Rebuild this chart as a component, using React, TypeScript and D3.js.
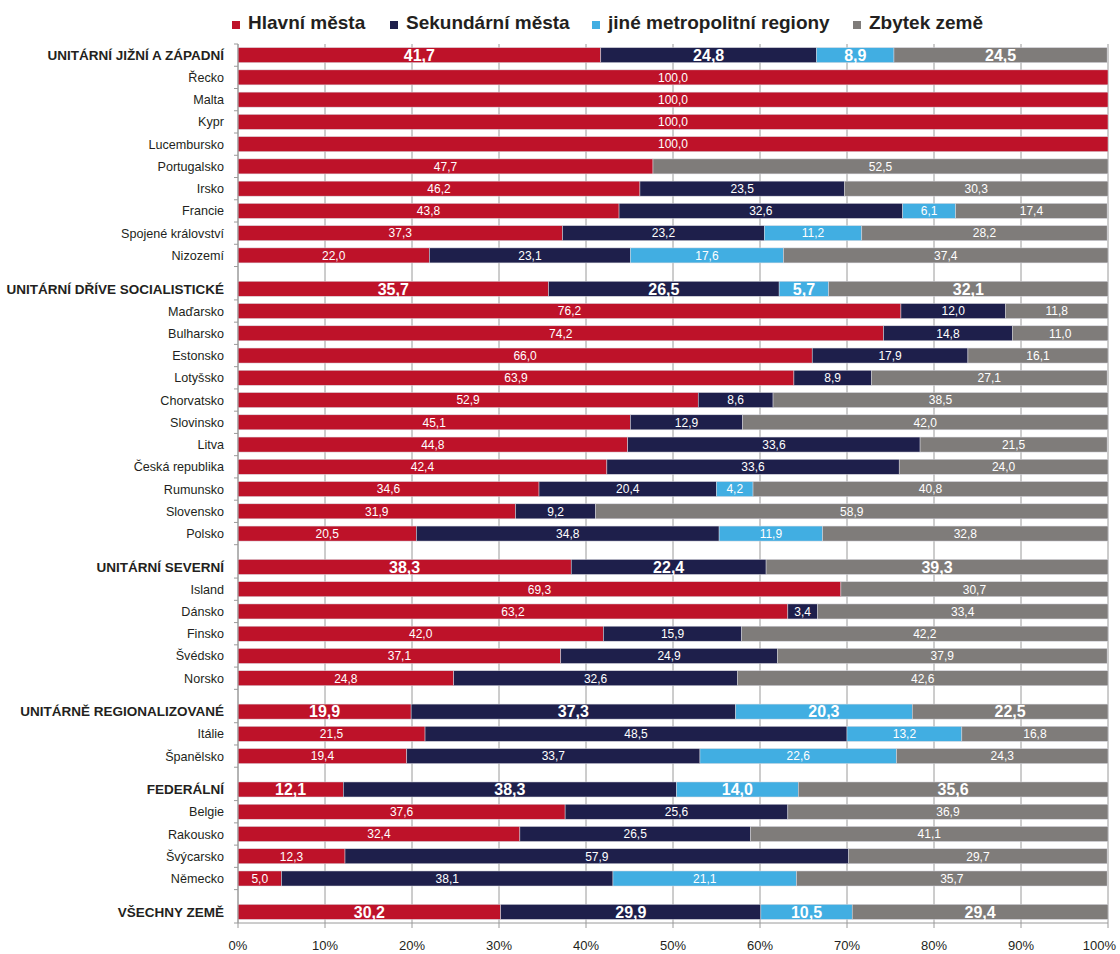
import React from "react";
import * as d3 from "d3";

const categories = [
  "UNITÁRNÍ JIŽNÍ A ZÁPADNÍ", "Řecko", "Malta", "Kypr", "Lucembursko", "Portugalsko", "Irsko", "Francie", "Spojené království", "Nizozemí",
  "UNITÁRNÍ DŘÍVE SOCIALISTICKÉ", "Maďarsko", "Bulharsko", "Estonsko", "Lotyšsko", "Chorvatsko", "Slovinsko", "Litva", "Česká republika", "Rumunsko", "Slovensko", "Polsko",
  "UNITÁRNÍ SEVERNÍ", "Island", "Dánsko", "Finsko", "Švédsko", "Norsko",
  "UNITÁRNĚ REGIONALIZOVANÉ", "Itálie", "Španělsko",
  "FEDERÁLNÍ", "Belgie", "Rakousko", "Švýcarsko", "Německo",
  "VŠECHNY ZEMĚ",
];

const headers = [
  "UNITÁRNÍ JIŽNÍ A ZÁPADNÍ",
  "UNITÁRNÍ DŘÍVE SOCIALISTICKÉ",
  "UNITÁRNÍ SEVERNÍ",
  "UNITÁRNĚ REGIONALIZOVANÉ",
  "FEDERÁLNÍ",
  "VŠECHNY ZEMĚ",
];

const hlavniMesta = [
  41.7, 100, 100, 100, 100, 47.7, 46.2, 43.8, 37.3, 22.0,
  35.7, 76.2, 74.2, 66.0, 63.9, 52.9, 45.1, 44.8, 42.4, 34.6, 31.9, 20.5,
  38.3, 69.3, 63.2, 42.0, 37.1, 24.8,
  19.9, 21.5, 19.4,
  12.1, 37.6, 32.4, 12.3, 5.0,
  30.2,
];
const sekundarniMesta = [
  24.8, 0, 0, 0, 0, 0, 23.5, 32.6, 23.2, 23.1,
  26.5, 12.0, 14.8, 17.9, 8.9, 8.6, 12.9, 33.6, 33.6, 20.4, 9.2, 34.8,
  22.4, 0, 3.4, 15.9, 24.9, 32.6,
  37.3, 48.5, 33.7,
  38.3, 25.6, 26.5, 57.9, 38.1,
  29.9,
];
const jineMetropolitni = [
  8.9, 0, 0, 0, 0, 0, 0, 6.1, 11.2, 17.6,
  5.7, 0, 0, 0, 0, 0, 0, 0, 0, 4.2, 0, 11.9,
  0, 0, 0, 0, 0, 0,
  20.3, 13.2, 22.6,
  14.0, 0, 0, 0, 21.1,
  10.5,
];
const zbytekZeme = [
  24.5, 0, 0, 0, 0, 52.5, 30.3, 17.4, 28.2, 37.4,
  32.1, 11.8, 11.0, 16.1, 27.1, 38.5, 42.0, 21.5, 24.0, 40.8, 58.9, 32.8,
  39.3, 30.7, 33.4, 42.2, 37.9, 42.6,
  22.5, 16.8, 24.3,
  35.6, 36.9, 41.1, 29.7, 35.7,
  29.4,
];

const seriesNames = ["Hlavní města", "Sekundární města", "jiné metropolitní regiony", "Zbytek země"];
const seriesColors = ["#BE1229", "#1E1F4B", "#41AEE2", "#7F7C7A"];
const xTicks = [0, 10, 20, 30, 40, 50, 60, 70, 80, 90, 100];

const FONT = "'Liberation Sans', Arial, Helvetica, sans-serif";

export default function App() {
  const width = 1120;
  const height = 954;
  const left = 238;
  const right = 1108;
  const top = 44;
  const bottom = 923;

  // slot positions: extra 0.5 slot gap before each group header (except first)
  const slots: number[] = [];
  let s = 0;
  categories.forEach((c, i) => {
    if (i > 0) s += headers.includes(c) ? 1.5 : 1;
    slots.push(s);
  });
  const lastSlot = slots[slots.length - 1];

  const x = d3.scaleLinear().domain([0, 100]).range([left, right]);
  const y = d3.scaleLinear().domain([-0.5, lastSlot + 0.5]).range([top, bottom]);
  const barH = 15;

  const rows = categories.map((c, i) => ({
    name: c,
    header: headers.includes(c),
    values: [hlavniMesta[i], sekundarniMesta[i], jineMetropolitni[i], zbytekZeme[i]],
    slot: slots[i],
  }));

  const fmt = (v: number) => d3.format(".1f")(v).replace(".", ",");

  const legendX = [232, 390, 592, 853];

  return (
    <svg width={width} height={height} style={{ display: "block", position: "absolute", left: 0, top: 0 }} fontFamily={FONT}>
      <rect x={0} y={0} width={width} height={height} fill="#fff" />
      {/* legend */}
      {seriesNames.map((n, i) => (
        <g key={n}>
          <rect x={legendX[i]} y={21} width={8} height={8} fill={seriesColors[i]} />
          <text x={legendX[i] + 16} y={28.5} fontSize={19} fontWeight="bold" fill="#231F20">{n}</text>
        </g>
      ))}
      {/* gridlines */}
      {xTicks.map((t) => (
        <line key={"g" + t} x1={x(t)} x2={x(t)} y1={top} y2={bottom} stroke="#9A9A9A" strokeWidth={1} />
      ))}
      {/* bars */}
      {rows.map((r) => {
        let acc = 0;
        const cy = y(r.slot);
        return (
          <g key={r.name}>
            {r.values.map((v, k) => {
              if (!v) return null;
              const x0 = acc;
              const x1 = Math.min(100, acc + v);
              acc += v;
              return (
                <rect key={k} x={x(x0)} y={cy - barH / 2} width={Math.max(0, x(x1) - x(x0))} height={barH}
                  fill={seriesColors[k]} stroke="#D8D8E0" strokeWidth={0.5} />
              );
            })}
          </g>
        );
      })}
      {/* value labels */}
      {rows.map((r) => {
        let acc = 0;
        const cy = y(r.slot);
        return (
          <g key={"l" + r.name}>
            {r.values.map((v, k) => {
              if (!v) return null;
              const x0 = acc;
              const x1 = Math.min(100, acc + v);
              acc += v;
              return (
                <text key={k} x={(x(x0) + x(x1)) / 2} y={cy} dy="0.36em" textAnchor="middle"
                  fontSize={r.header ? 16 : 12} fontWeight={r.header ? "bold" : "normal"} fill="#fff">
                  {fmt(v)}
                </text>
              );
            })}
          </g>
        );
      })}
      {/* axes */}
      <line x1={left} x2={left} y1={top} y2={bottom} stroke="#9A9A9A" strokeWidth={1} />
      <line x1={left} x2={right} y1={bottom} y2={bottom} stroke="#9A9A9A" strokeWidth={1} />
      <line x1={left - 4} x2={left} y1={top} y2={top} stroke="#9A9A9A" strokeWidth={1} />
      {rows.map((r) => (
        <line key={"t" + r.name} x1={left - 4} x2={left} y1={y(r.slot + 0.5)} y2={y(r.slot + 0.5)} stroke="#9A9A9A" strokeWidth={1} />
      ))}
      {xTicks.map((t, i) => {
        const last = i === xTicks.length - 1;
        return (
          <g key={"xt" + t}>
            <line x1={x(t)} x2={x(t)} y1={bottom} y2={bottom + 5} stroke="#9A9A9A" strokeWidth={1} />
            <text x={last ? 1116 : x(t)} y={950} textAnchor={last ? "end" : "middle"} fontSize={13} fill="#231F20">{t}%</text>
          </g>
        );
      })}
      {/* category labels */}
      {rows.map((r) => (
        <text key={"c" + r.name} x={224} y={y(r.slot)} dy="0.36em" textAnchor="end"
          fontSize={r.header ? 13.5 : 12.6} fontWeight={r.header ? "bold" : "normal"} fill="#231F20">
          {r.name}
        </text>
      ))}
    </svg>
  );
}
